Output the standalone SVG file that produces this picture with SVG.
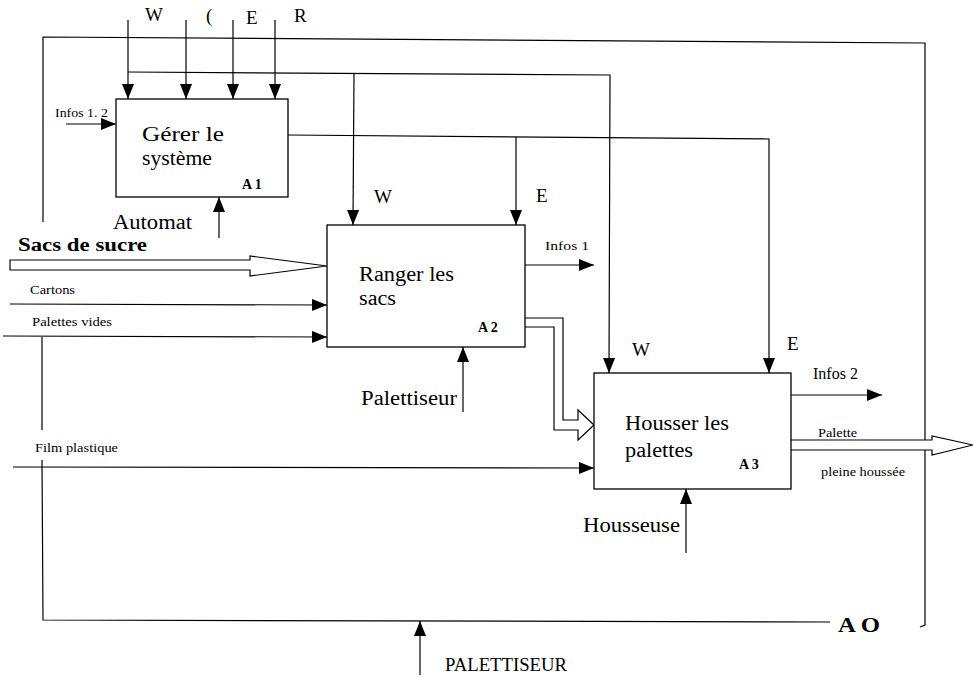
<svg xmlns="http://www.w3.org/2000/svg" width="973" height="682" viewBox="0 0 973 682">
<style>
  .ln{fill:none;stroke:#000;stroke-width:1.2}
  .bx{fill:#fff;stroke:#000;stroke-width:1.3}
  .da{fill:#fff;stroke:#000;stroke-width:1.2}
  text{font-family:"Liberation Serif","Times New Roman",serif;fill:#000}
  .t{font-size:20px}
  .l{font-size:19px}
  .s{font-size:12px}
  .b{font-weight:bold;font-size:14px}
</style>
<defs>
  <marker id="ah" markerWidth="15" markerHeight="12" refX="15" refY="6" orient="auto" markerUnits="userSpaceOnUse">
    <path d="M0,0 L15,6 L0,12 Z" fill="#000"/>
  </marker>
</defs>
<rect width="973" height="682" fill="#fff"/>
<g id="connectors">
  <path class="ln" d="M43,222 L43,37 L925,43 L925,625 L920,627"/>
  <path class="ln" d="M42,337 L42,430"/>
  <path class="ln" d="M42,460 L43,620 L830,622"/>
  <path class="ln" d="M128,20 L128,99" marker-end="url(#ah)"/>
  <path class="ln" d="M186,20 L186,99" marker-end="url(#ah)"/>
  <path class="ln" d="M233,20 L233,99" marker-end="url(#ah)"/>
  <path class="ln" d="M275,20 L275,99" marker-end="url(#ah)"/>
  <path class="ln" d="M128,72 L610,75 L609,373" marker-end="url(#ah)"/>
  <path class="ln" d="M354,73 L353,225" marker-end="url(#ah)"/>
  <path class="ln" d="M288,135 L769,139 L769,373" marker-end="url(#ah)"/>
  <path class="ln" d="M516,137 L516,225" marker-end="url(#ah)"/>
  <path class="ln" d="M66,124 L116,124" marker-end="url(#ah)"/>
  <path class="ln" d="M219,238 L219,197" marker-end="url(#ah)"/>
  <path class="da" d="M10,260 L250,260 L250,256 L327,266 L250,276 L250,270 L10,270 Z"/>
  <path class="ln" d="M10,304 L327,305" marker-end="url(#ah)"/>
  <path class="ln" d="M3,336 L327,337" marker-end="url(#ah)"/>
  <path class="ln" d="M13,467 L594,468" marker-end="url(#ah)"/>
  <path class="ln" d="M525,265 L594,265" marker-end="url(#ah)"/>
  <path class="da" d="M525,318 L563,318 L563,420 L578,420 L578,410 L594,425 L578,440 L578,430 L554,430 L554,327 L525,327"/>
  <path class="ln" d="M463,412 L463,347" marker-end="url(#ah)"/>
  <path class="ln" d="M791,395 L882,395" marker-end="url(#ah)"/>
  <path class="da" d="M791,440 L932,440 L932,436 L973,445 L932,455 L932,450 L791,450"/>
  <path class="ln" d="M686,553 L686,489" marker-end="url(#ah)"/>
  <path class="ln" d="M420,675 L420,621" marker-end="url(#ah)"/>
</g>
<g id="A1">
  <rect class="bx" x="116" y="99" width="172" height="98"/>
  <text class="t" x="142" y="141" textLength="82" lengthAdjust="spacingAndGlyphs">Gérer le</text>
  <text class="t" x="142" y="165" textLength="70" lengthAdjust="spacingAndGlyphs">système</text>
  <text class="b" x="242" y="189">A 1</text>
</g>
<g id="A2">
  <rect class="bx" x="327" y="225" width="198" height="122"/>
  <text class="t" x="359" y="281" textLength="95" lengthAdjust="spacingAndGlyphs">Ranger les</text>
  <text class="t" x="359" y="305" textLength="37" lengthAdjust="spacingAndGlyphs">sacs</text>
  <text class="b" x="478" y="332">A 2</text>
</g>
<g id="A3">
  <rect class="bx" x="594" y="373" width="197" height="116"/>
  <text class="t" x="625" y="430" textLength="104" lengthAdjust="spacingAndGlyphs">Housser les</text>
  <text class="t" x="625" y="457" textLength="68" lengthAdjust="spacingAndGlyphs">palettes</text>
  <text class="b" x="739" y="469">A 3</text>
</g>
<g id="labels">
  <text class="l" x="145" y="21">W</text>
  <text class="l" x="206" y="22">(</text>
  <text class="l" x="246" y="24">E</text>
  <text class="l" x="294" y="22">R</text>
  <text class="s" x="55" y="117" textLength="53" lengthAdjust="spacingAndGlyphs">Infos 1. 2</text>
  <text class="t" x="113" y="229" textLength="79" lengthAdjust="spacingAndGlyphs">Automat</text>
  <text class="l" x="374" y="203">W</text>
  <text class="l" x="536" y="202">E</text>
  <text x="18" y="251" style="font-size:18px;font-weight:bold" textLength="129" lengthAdjust="spacingAndGlyphs">Sacs de sucre</text>
  <text class="s" x="30" y="294" textLength="45" lengthAdjust="spacingAndGlyphs">Cartons</text>
  <text class="s" x="32" y="326" textLength="80" lengthAdjust="spacingAndGlyphs">Palettes vides</text>
  <text class="s" x="35" y="452" textLength="83" lengthAdjust="spacingAndGlyphs">Film plastique</text>
  <text x="545" y="250" style="font-size:13px" textLength="44" lengthAdjust="spacingAndGlyphs">Infos 1</text>
  <text class="t" x="361" y="405" textLength="96" lengthAdjust="spacingAndGlyphs">Palettiseur</text>
  <text class="l" x="632" y="356">W</text>
  <text class="l" x="787" y="350">E</text>
  <text x="813" y="379" style="font-size:16px" textLength="45" lengthAdjust="spacingAndGlyphs">Infos 2</text>
  <text class="s" x="818" y="437" textLength="39" lengthAdjust="spacingAndGlyphs">Palette</text>
  <text class="s" x="821" y="476" textLength="84" lengthAdjust="spacingAndGlyphs">pleine houssée</text>
  <text class="t" x="583" y="532" textLength="97" lengthAdjust="spacingAndGlyphs">Housseuse</text>
  <text x="838" y="632" style="font-size:21px;font-weight:bold" textLength="42" lengthAdjust="spacingAndGlyphs">A O</text>
  <text x="445" y="671" style="font-size:18px" textLength="122" lengthAdjust="spacingAndGlyphs">PALETTISEUR</text>
</g>
</svg>
